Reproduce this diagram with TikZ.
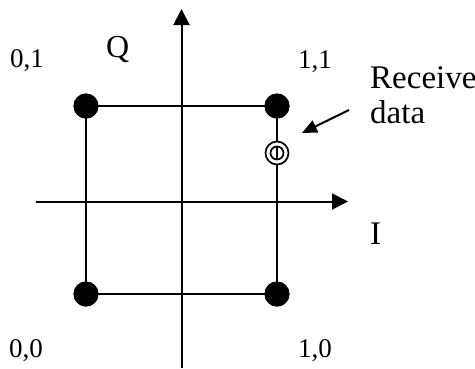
\documentclass[tikz,border=0pt]{standalone}
\usepackage{fontspec}
\setmainfont{Liberation Serif}
\usetikzlibrary{arrows.meta}
\begin{document}
\begin{tikzpicture}[x=1pt,y=-1pt,
  ln/.style={line width=2pt},
  dot/.style={circle,fill=black,inner sep=0pt,minimum size=25pt},
  numlab/.style={anchor=base west,inner sep=0pt,font=\fontsize{27}{30}\selectfont},
  biglab/.style={anchor=base west,inner sep=0pt,font=\fontsize{33}{35}\selectfont,align=left},
  axis/.style={line width=2pt,-{Triangle[length=16pt,width=16pt]}}]
\useasboundingbox (0,0) rectangle (475,368);
% axes
\coordinate (vb) at (181.5,368);
\coordinate (vt) at (181.5,9);
\coordinate (hl) at (36,201.5);
\coordinate (hr) at (348,201.5);
\draw[axis] (vb) -- (vt);
\draw[axis] (hl) -- (hr);
% constellation points
\node[dot] (d01) at (86,106) {};
\node[dot] (d11) at (277,106) {};
\node[dot] (d00) at (86,294) {};
\node[dot] (d10) at (277,294) {};
\draw[ln] (d01.center) -- (d11.center) -- (d10.center) -- (d00.center) -- cycle;
\node[dot] at (d01) {};
\node[dot] at (d11) {};
\node[dot] at (d00) {};
\node[dot] at (d10) {};
% received data symbol
\node[circle,draw,fill=white,line width=1.7pt,inner sep=0pt,minimum size=23pt] (rx) at (277,153) {};
\node[circle,draw,line width=1.7pt,inner sep=0pt,minimum size=13pt] (rxi) at (rx.center) {};
\draw[line width=1.7pt] (rxi.north) -- (rxi.south);
% labels
\node[numlab] (l01) at (10,67) {0,1};
\node[numlab] (l11) at (298,68) {1,1};
\node[numlab] (l00) at (9,357) {0,0};
\node[numlab] (l10) at (298,357) {1,0};
\node[anchor=base west,inner sep=0pt,font=\fontsize{32}{34}\selectfont] (q) at (106,57) {Q};
\node[biglab] (i) at (370,244) {I};
\node[biglab] (rd) at (370,123) {Receive\\data};
% pointer arrow
\coordinate (ps) at (349,110);
\coordinate (pe) at (302,133);
\draw[line width=2pt,-{Triangle[length=15pt,width=13pt]}] (ps) -- (pe);
\end{tikzpicture}
\end{document}
